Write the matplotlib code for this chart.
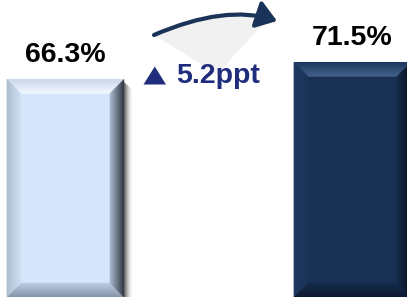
import numpy as np
import matplotlib
matplotlib.use("Agg")
import matplotlib.pyplot as plt
from matplotlib.patches import Polygon, FancyArrowPatch
from matplotlib.path import Path
from matplotlib.colors import to_rgb

# ---- data ----
categories = ["Before", "After"]
values = [66.3, 71.5]
labels = ["66.3%", "71.5%"]
delta_label = "5.2ppt"

bar_faces = ["#D5E6FB", "#173054"]
bevel_colors = [
    # (outer, inner) for top, left, right, bottom
    {"top": ("#C9D6E8", "#F4F9FF"), "left": ("#AEBCD0", "#D0DFF3"),
     "right": ("#30363E", "#A9B9CE"), "bottom": ("#8593A8", "#BCCCE2")},
    {"top": ("#1D385E", "#46658F"), "left": ("#1E3960", "#1A3459"),
     "right": ("#08111F", "#142B4A"), "bottom": ("#0C1A30", "#152C4C")},
]

W, H = 407, 297
DPI = 100
fig = plt.figure(figsize=(W / DPI, H / DPI), dpi=DPI)
ax = fig.add_axes([0, 0, 1, 1])
ax.set_xlim(-0.228, 1.19)
ax.set_ylim(0, 90.5)
ax.axis("off")
fig.patch.set_facecolor("white")

x = np.arange(len(categories))
width = 0.408
bars = ax.bar(x, values, width=width, color=bar_faces, zorder=3)

fig.canvas.draw()
p0 = ax.transData.transform((0, 0))
p1 = ax.transData.transform((1, 1))
sx, sy = p1[0] - p0[0], p1[1] - p0[1]


def lerp(c1, c2, t):
    a, b = np.array(to_rgb(c1)), np.array(to_rgb(c2))
    return tuple(a + (b - a) * t)


def bevel(rect, cols, bpx=14, n=14):
    x0, y0 = rect.get_x(), rect.get_y()
    x1, y1 = x0 + rect.get_width(), y0 + rect.get_height()
    bx, by = bpx / sx, bpx / sy
    for i in range(n):
        t0, t1 = i / n, (i + 1) / n
        tm = (t0 + t1) / 2

        def r(t):
            return (x0 + t * bx, y0 + t * by, x1 - t * bx, y1 - t * by)
        a0, b0, c0, d0 = r(t0)
        a1, b1, c1, d1 = r(t1)
        sides = {
            "top": [(a0, d0), (c0, d0), (c1, d1), (a1, d1)],
            "bottom": [(a0, b0), (c0, b0), (c1, b1), (a1, b1)],
            "left": [(a0, b0), (a0, d0), (a1, d1), (a1, b1)],
            "right": [(c0, b0), (c0, d0), (c1, d1), (c1, b1)],
        }
        for side, pts in sides.items():
            col = lerp(cols[side][0], cols[side][1], tm)
            ax.add_patch(Polygon(pts, closed=True, facecolor=col,
                                 edgecolor=col, lw=0.3, zorder=4))


def shadow(rect, n=9):
    x0, y0 = rect.get_x(), rect.get_y()
    x1, y1 = x0 + rect.get_width(), y0 + rect.get_height()
    for i in range(n):
        d = (i + 1) / sx
        alpha = 0.28 * (1 - i / n) ** 1.5
        ax.add_patch(Polygon([(x1, y0), (x1 + d, y0), (x1 + d, y1 - (i + 3) / sy),
                              (x1, y1 - 3 / sy)], closed=True,
                             facecolor="#404040", edgecolor="none",
                             alpha=alpha, zorder=2))


for rect, cols in zip(bars, bevel_colors):
    shadow(rect)
    bevel(rect, cols)

# value labels
for xi, v, lab in zip(x, values, labels):
    ax.annotate(lab, (xi, v), xytext=(0, 12.5), textcoords="offset points",
                ha="center", va="baseline", fontsize=20.5, fontweight="bold",
                family=["Liberation Sans", "DejaVu Sans"], color="#000000",
                zorder=6)


# curved arrow and grey wedge (pixel positions, top-down -> axes fraction)
def frac(px, py):
    return np.array([px / W, 1 - py / H])


sp, cp, ep = frac(154, 35), frac(226, 4), frac(277, 21)
tt = np.linspace(0, 1, 50)[:, None]
curve = (1 - tt) ** 2 * sp + 2 * (1 - tt) * tt * cp + tt ** 2 * ep
wedge = np.vstack([curve[:-4], frac(217, 74)])
ax.add_patch(Polygon(wedge, closed=True, transform=ax.transAxes,
                     facecolor="#F1F1F1", edgecolor="none", zorder=1))

arrow_path = Path([sp, cp, ep], [Path.MOVETO, Path.CURVE3, Path.CURVE3])
arrow = FancyArrowPatch(path=arrow_path, transform=ax.transAxes,
                        arrowstyle="-|>,head_length=0.6,head_width=0.42",
                        mutation_scale=20, color="#1A3358", lw=3.0, zorder=5)
ax.add_patch(arrow)

# delta marker + label
tri = np.array([frac(143.5, 84.5), frac(166, 84.5), frac(154.75, 66.5)])
ax.add_patch(Polygon(tri, closed=True, transform=ax.transAxes,
                     facecolor="#202D7C", edgecolor="none", zorder=6))
ax.text(176 / W, 1 - 83 / H, delta_label, transform=ax.transAxes,
        ha="left", va="baseline", fontsize=20.5, fontweight="bold",
        family=["Liberation Sans", "DejaVu Sans"], color="#202D7C", zorder=6)

fig.savefig("out.png", dpi=DPI, facecolor="white")
